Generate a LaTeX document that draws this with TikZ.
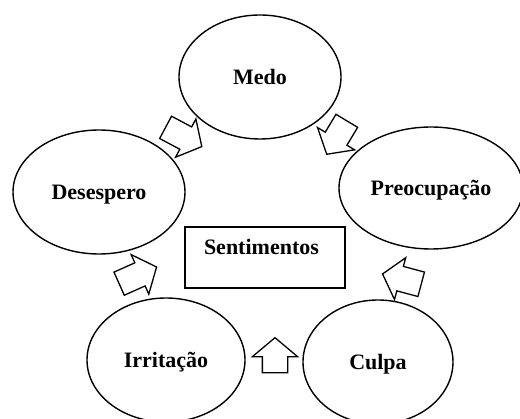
\documentclass[tikz,border=0pt]{standalone}
\usepackage{fontspec}
\setmainfont{Liberation Serif}
\usepackage{tikz}
\usetikzlibrary{shapes.geometric,shapes.arrows}

\begin{document}
\begin{tikzpicture}[x=1pt,y=-1pt,
	feeling/.style={ellipse,draw=black,line width=1.4pt,inner sep=3pt,
		font=\fontsize{22}{26}\selectfont\bfseries,text height=14.5pt,text depth=0pt},
	topic/.style={rectangle,draw=black,line width=1.2pt,minimum width=160pt,
		inner xsep=19pt,inner ysep=8pt,text width=122pt,align=left,
		text height=20pt,text depth=25pt,font=\fontsize{22}{26}\selectfont\bfseries},
	blockarrow/.style={single arrow,draw=black,line width=1.3pt,inner xsep=0pt,
		inner ysep=12pt,minimum height=40pt,single arrow head extend=9pt,
		single arrow tip angle=100}]

	\useasboundingbox (0,0) rectangle (520,419);

	% the feelings
	\node [feeling,minimum width=162pt,minimum height=124pt] (medo) at (260,77) {Medo};
	\node [feeling,minimum width=184pt,minimum height=122pt] (preocupacao) at (431,188) {Preocupação};
	\node [feeling,minimum width=150pt,minimum height=124pt] (culpa) at (378,362) {Culpa};
	\node [feeling,minimum width=158pt,minimum height=124pt] (irritacao) at (166,360) {Irritação};
	\node [feeling,minimum width=172pt,minimum height=124pt] (desespero) at (99,192) {Desespero};

	\node [topic] (sentimentos) at (265,257.5) {Sentimentos};

	% block arrows round the cycle
	\node [blockarrow,rotate=-28,minimum height=41pt] (a1) at (179,134.5) {};
	\node [blockarrow,rotate=-121,minimum height=39pt] (a2) at (339.5,133) {};
	\node [blockarrow,rotate=165] (a4) at (407,280.5) {};
	\node [blockarrow,rotate=90,minimum height=35pt,single arrow head extend=10pt] (a5) at (275,360.5) {};
	\node [blockarrow,rotate=24,minimum height=41pt] (a3) at (133,277.5) {};
\end{tikzpicture}
\end{document}
